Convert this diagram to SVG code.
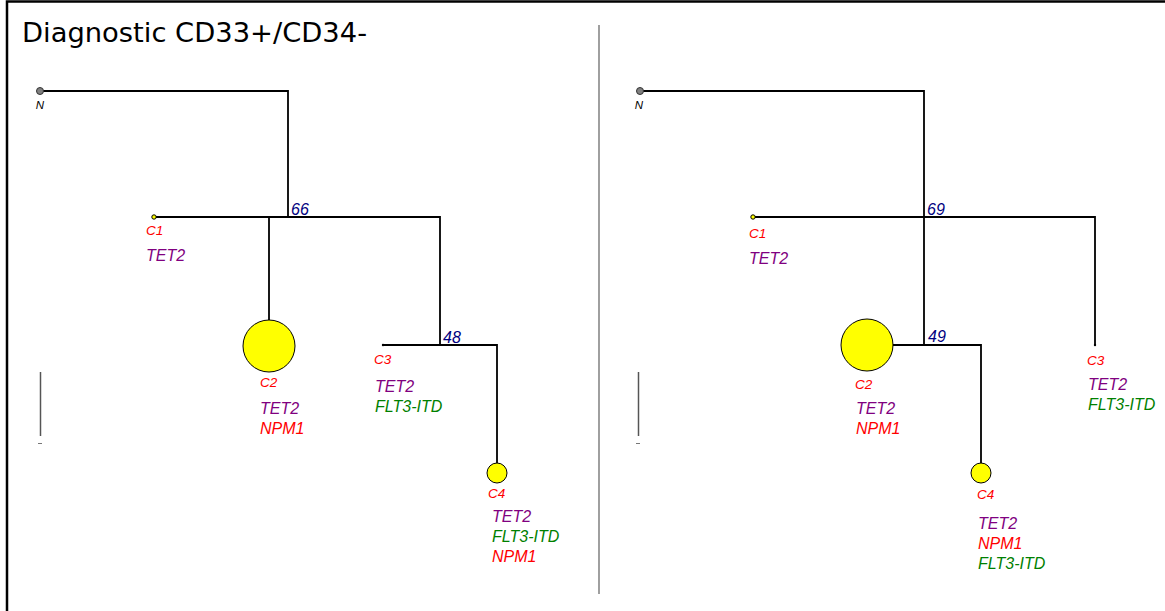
<svg xmlns="http://www.w3.org/2000/svg" width="1165" height="611" viewBox="0 0 1165 611">
<style>
.e{stroke:#000;stroke-width:1.8;fill:none}
.lbl{font-family:"Liberation Sans",Arial,sans-serif;font-style:italic}
.cl{font-size:13.5px;fill:#ff0000}
.g{font-size:16px}
.tet{fill:#800080}
.flt{fill:#008000}
.npm{fill:#ff0000}
.num{font-size:16px;fill:#000080}
.nl{font-size:11.5px;fill:#000}
.big{fill:#ffff00;stroke:#000;stroke-width:1}
</style>
<rect width="1165" height="611" fill="#fff"/>
<path d="M7,612 V1.5 H1166" fill="none" stroke="#000" stroke-width="2.5"/>
<line x1="599" y1="25" x2="599" y2="594" stroke="#888" stroke-width="1.6"/>
<text x="22" y="42" font-family="DejaVu Sans,sans-serif" font-size="27" textLength="345" lengthAdjust="spacingAndGlyphs" fill="#000">Diagnostic CD33+/CD34-</text>
<g id="scalebar-left"><line x1="40.5" y1="372" x2="40.5" y2="436" stroke="#555" stroke-width="1.5"/><line x1="38" y1="443.5" x2="42" y2="443.5" stroke="#777" stroke-width="1"/></g>
<g id="scalebar-right"><line x1="638.5" y1="372" x2="638.5" y2="436" stroke="#555" stroke-width="1.5"/><line x1="636" y1="443.5" x2="640" y2="443.5" stroke="#777" stroke-width="1"/></g>
<g id="connectors">
<path class="e" d="M40,91 H288 V217"/>
<path class="e" d="M154,217 H440 V345"/>
<path class="e" d="M269,217 V320"/>
<path class="e" d="M383,345 H497 V463"/>
<path class="e" d="M640,91 H924 V345"/>
<path class="e" d="M753,217 H1095 V345"/>
<path class="e" d="M867,345 H981 V463"/>
</g>
<g id="L-N"><circle cx="40" cy="91" r="3.5" fill="#808080" stroke="#333" stroke-width="1"/><text class="lbl nl" x="40" y="109" text-anchor="middle">N</text></g>
<g id="L-66"><text class="lbl num" x="291" y="215">66</text></g>
<g id="L-48"><text class="lbl num" x="443" y="343">48</text></g>
<g id="L-C1"><circle cx="154" cy="217" r="2.2" fill="#ffff00" stroke="#000" stroke-width="1"/><text class="lbl cl" x="146" y="235">C1</text><text class="lbl g tet" x="146" y="261">TET2</text></g>
<g id="L-C2"><circle class="big" cx="269" cy="346" r="26"/><text class="lbl cl" x="260" y="387">C2</text><text class="lbl g tet" x="260" y="414">TET2</text><text class="lbl g npm" x="260" y="434">NPM1</text></g>
<g id="L-C3"><circle cx="383" cy="345" r="1.2" fill="#000"/><text class="lbl cl" x="374" y="364">C3</text><text class="lbl g tet" x="375" y="392">TET2</text><text class="lbl g flt" x="375" y="412">FLT3-ITD</text></g>
<g id="L-C4"><circle class="big" cx="497" cy="473" r="10"/><text class="lbl cl" x="488" y="498">C4</text><text class="lbl g tet" x="492" y="522">TET2</text><text class="lbl g flt" x="492" y="542">FLT3-ITD</text><text class="lbl g npm" x="492" y="562">NPM1</text></g>
<g id="R-N"><circle cx="640" cy="91" r="3.5" fill="#808080" stroke="#333" stroke-width="1"/><text class="lbl nl" x="639" y="109" text-anchor="middle">N</text></g>
<g id="R-69"><text class="lbl num" x="927" y="215">69</text></g>
<g id="R-49"><text class="lbl num" x="928" y="342">49</text></g>
<g id="R-C1"><circle cx="753" cy="217" r="2.2" fill="#ffff00" stroke="#000" stroke-width="1"/><text class="lbl cl" x="749" y="238">C1</text><text class="lbl g tet" x="749" y="264">TET2</text></g>
<g id="R-C2"><circle class="big" cx="867" cy="345" r="26"/><text class="lbl cl" x="855" y="389">C2</text><text class="lbl g tet" x="856" y="414">TET2</text><text class="lbl g npm" x="856" y="434">NPM1</text></g>
<g id="R-C3"><circle cx="1095" cy="345" r="1.2" fill="#000"/><text class="lbl cl" x="1087" y="365">C3</text><text class="lbl g tet" x="1088" y="390">TET2</text><text class="lbl g flt" x="1088" y="410">FLT3-ITD</text></g>
<g id="R-C4"><circle class="big" cx="981" cy="473" r="10"/><text class="lbl cl" x="977" y="499">C4</text><text class="lbl g tet" x="978" y="529">TET2</text><text class="lbl g npm" x="978" y="549">NPM1</text><text class="lbl g flt" x="978" y="569">FLT3-ITD</text></g>
</svg>
